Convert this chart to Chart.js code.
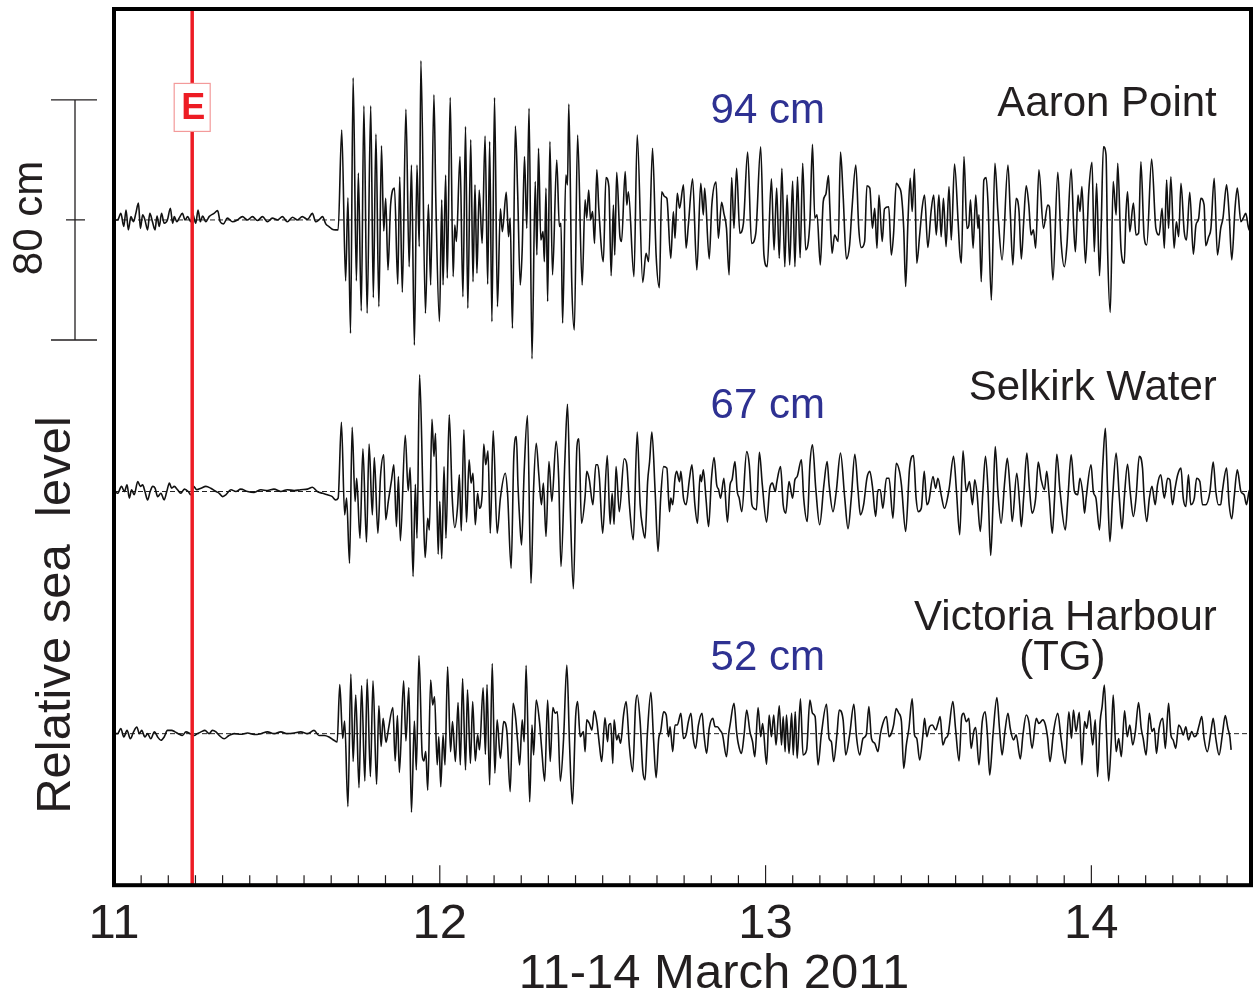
<!DOCTYPE html>
<html lang="en">
<head>
  <meta charset="UTF-8">
  <title>Tsunami records 11-14 March 2011</title>
  <script src="https://cdn.jsdelivr.net/npm/chart.js"></script>
  <style>
    body {
      margin: 0;
      background: white;
    }
    #wrap {
      width: 1254px;
      height: 991px;
    }
  </style>
</head>
<body>
  <div id="wrap">
    <canvas id="seaChart" width="1254" height="991"></canvas>
  </div>

  <script>
    // time in decimal days of March 2011 (UTC), level in cm relative to each record's mean
    const aaronPoint = [
      [11.003,0],[11.011,0],[11.021,2.2],[11.030,-2.2],[11.037,3.3],[11.044,-3.3],[11.052,1.1],[11.060,-0.6],[11.067,2.2],[11.075,5.6],
      [11.081,-2.8],[11.088,1.7],[11.095,0],[11.103,-3.3],[11.110,2.2],[11.118,-0.6],[11.126,-3.3],[11.132,1.3],[11.139,-2.2],[11.146,2.2],
      [11.154,-1.1],[11.164,0],[11.173,3.9],[11.180,-1.1],[11.185,1.1],[11.193,-0.6],[11.200,0.6],[11.210,2.2],[11.218,0],[11.226,1.1],
      [11.236,-0.6],[11.241,2.2],[11.251,-1.1],[11.258,3.3],[11.265,-0.6],[11.272,1.3],[11.282,-0.6],[11.292,1.1],[11.307,2.2],[11.318,3.1],
      [11.326,-0.6],[11.336,-1.3],[11.348,0.6],[11.364,-0.6],[11.379,0],[11.394,1.1],[11.410,0],[11.425,1.1],[11.440,-0.2],[11.456,1.1],
      [11.471,-0.6],[11.486,0.6],[11.502,0],[11.517,1.1],[11.532,-0.6],[11.548,0.9],[11.563,0],[11.578,1.1],[11.594,0.2],[11.609,2.2],
      [11.619,-0.6],[11.629,0],[11.640,1.1],[11.650,-1.3],[11.660,-2.2],[11.670,-3.1],[11.680,-3.3],[11.688,-3.3],
      [11.699,30],[11.711,-20.3],[11.718,7.4],[11.726,-37.8],[11.734,47.4],[11.744,-20.3],[11.750,15.6],[11.759,-30.3],[11.767,38],[11.777,-31.1],
      [11.788,38],[11.796,-25.9],[11.804,28.6],[11.813,-28.9],[11.821,24.7],[11.828,-3.7],[11.834,7.2],[11.841,-16.7],[11.849,5],[11.861,10.6],
      [11.871,-21.4],[11.877,14.4],[11.885,-24.1],[11.896,36.9],[11.906,-15.6],[11.913,18.3],[11.922,-41.7],[11.930,18.3],[11.937,-8.9],[11.942,53],
      [11.956,-31.1],[11.965,5.2],[11.972,-21.7],[11.982,41.7],[11.988,5.6],[11.999,-33.9],[12.006,6.7],[12.010,-21.7],[12.018,15],[12.023,-19.4],
      [12.032,40.8],[12.041,-18.9],[12.046,-1.7],[12.051,-7.2],[12.062,21.1],[12.071,-25.6],[12.079,31.1],[12.086,-29.4],[12.095,26.7],[12.102,-20.6],
      [12.108,11.7],[12.114,-17.8],[12.121,10],[12.130,-7.8],[12.139,28],[12.147,-21.4],[12.153,26.1],[12.160,-33.9],[12.168,40.8],[12.177,-28.9],
      [12.186,3.7],[12.192,-3.9],[12.204,9.2],[12.211,-5.6],[12.216,0.6],[12.223,-36.1],[12.232,31.3],[12.239,9.2],[12.247,-21.7],[12.253,-9.7],
      [12.260,21.1],[12.267,-2.8],[12.274,37.2],[12.283,-46.3],[12.293,12.8],[12.298,-11.7],[12.303,23.9],[12.310,-6.7],[12.317,-3.9],[12.321,-13.9],
      [12.326,10.6],[12.331,-27.2],[12.338,26.1],[12.346,-18.3],[12.359,20],[12.367,-2.2],[12.372,-1.1],[12.377,-34.4],[12.387,15],[12.392,11.7],
      [12.396,38.6],[12.405,-20.6],[12.413,-36.7],[12.423,28.3],[12.437,-21.7],[12.446,6.7],[12.451,0.6],[12.457,10],[12.463,0],[12.469,2.8],
      [12.475,-7.8],[12.482,16.7],[12.488,3.9],[12.502,-13.9],[12.510,14.1],[12.519,11.1],[12.526,-18.6],[12.533,5],[12.537,-11.7],[12.543,15.9],
      [12.553,-5.6],[12.558,-7.2],[12.569,16.1],[12.574,5],[12.579,9.4],[12.596,-18.9],[12.606,28.3],
      [12.623,-20.8],[12.633,-11.1],[12.641,-13.9],[12.653,23.9],[12.664,-11.7],[12.674,-22.6],[12.681,9.4],[12.690,7.8],[12.697,7.2],[12.709,-12.8],
      [12.717,2.8],[12.722,-6.1],[12.729,8.9],[12.736,3.9],[12.748,11.7],[12.756,-9.4],[12.763,-1.7],[12.776,13.7],[12.789,-16.7],[12.801,12.2],
      [12.809,1.7],[12.813,10.6],[12.827,-13],[12.835,5],[12.848,12.6],[12.855,-6.1],[12.865,5.9],[12.872,2.2],[12.880,-2.8],[12.888,-18.3],
      [12.896,14.1],[12.903,-2.8],[12.911,17.2],[12.921,-4.4],[12.932,-1.1],[12.945,22.6],[12.957,-7.8],[12.970,-4.4],[12.985,24.4],[12.995,-11.7],
      [13.005,-15.6],[13.018,13.7],[13.026,-10],[13.034,10.6],[13.042,-12.8],[13.050,17.2],[13.059,-15.6],[13.066,8.3],[13.074,-15],[13.083,13],
      [13.090,-15.6],[13.098,14.4],[13.106,-12.6],[13.114,18.9],[13.123,-10],[13.136,-0.6],[13.144,25.2],[13.151,0.6],[13.158,1.7],[13.168,-15],
      [13.177,6.1],[13.185,8.6],[13.193,14.8],[13.197,5],[13.204,-11.1],[13.212,-5],[13.223,-7.2],[13.230,22.6],[13.238,8.3],[13.248,-13],
      [13.258,-8.3],[13.265,3.3],[13.277,18.3],[13.286,-2.8],[13.294,-9.2],[13.304,-7.2],[13.311,11.4],[13.320,10.6],[13.328,-2.8],[13.335,3.9],
      [13.342,-9.4],[13.348,8.3],[13.358,-7.2],[13.365,3.7],[13.378,4.4],[13.386,-11.7],[13.393,-4.4],[13.401,12.2],[13.409,11.1],[13.417,8.3],
      [13.424,-2.8],[13.430,-22.2],[13.437,-0.6],[13.444,13.9],[13.450,2.8],[13.457,17],[13.464,-14.4],[13.473,-5],[13.481,4.4],[13.488,8.3],
      [13.498,-9.2],[13.508,2.8],[13.516,8.3],[13.524,-5],[13.532,8.3],[13.539,-5.6],[13.546,7.2],[13.554,-8.9],[13.563,11.1],
      [13.570,-6.7],[13.580,18.6],[13.591,-0.6],[13.596,-10.6],[13.601,-14.4],[13.609,21.1],[13.618,-2.8],[13.624,-1.7],[13.629,6.7],[13.637,-9.4],
      [13.645,8.3],[13.652,-2.8],[13.655,1.7],[13.662,-20.6],[13.670,13.3],[13.677,14.1],[13.683,5],[13.693,-26.7],[13.704,18.9],[13.713,2.8],
      [13.726,-13.3],[13.744,18.3],[13.751,2.8],[13.759,-15],[13.769,7.2],[13.778,2.8],[13.785,-13],[13.792,-1.1],[13.800,11.4],[13.808,5],
      [13.815,-5],[13.822,-3.3],[13.829,-9.4],[13.839,16.7],[13.853,-2.8],[13.866,5],[13.871,4.4],[13.882,-20],[13.897,15.9],[13.907,-7.2],
      [13.917,-15.6],[13.925,-8.3],[13.938,17],[13.946,-2.8],[13.951,-10.6],[13.959,8.3],[13.965,2.8],[13.971,11.1],[13.982,-14.4],[13.992,9.4],
      [14.002,19.2],[14.009,-10.6],[14.016,12.2],[14.025,-18.6],[14.030,-2.8],[14.037,24.4],[14.045,21.7],[14.050,-10.6],[14.058,-30.8],[14.067,12.8],
      [14.076,1.7],[14.081,18.9],[14.091,-9.7],[14.101,-14.4],[14.106,1.7],[14.111,9.4],[14.118,-3.9],[14.129,5.6],[14.137,-5],[14.145,-4.4],
      [14.152,19.4],[14.162,-5.6],[14.170,-8.3],[14.185,20.3],[14.198,-2.8],[14.208,-5],[14.217,3.9],[14.224,-9.4],[14.231,13.3],[14.237,-2.8],
      [14.244,14.4],[14.254,-9.4],[14.261,-0.6],[14.268,-5.6],[14.275,12.2],[14.285,-3.9],[14.292,-6.7],[14.302,9.2],[14.313,-11.4],[14.321,-1.7],
      [14.329,0.3],[14.336,7.2],[14.346,5],[14.351,-8.6],[14.360,-5.6],[14.367,-2.8],[14.377,13.9],[14.387,-11.7],[14.397,-2.8],[14.404,0.6],
      [14.415,11.7],[14.423,1.7],[14.431,-13.3],[14.441,3.9],[14.448,10.6],[14.459,-0.6],[14.466,0.6],[14.474,2.2],[14.484,-3.3],[14.489,2.8]
    ];

    const selkirkWater = [
      [11.003,0],[11.011,-0.6],[11.023,1.7],[11.032,0],[11.040,2.2],[11.047,-2.2],[11.054,0.6],[11.062,-1.1],[11.073,3.3],[11.081,1.7],
      [11.088,2.2],[11.095,0],[11.103,-2.8],[11.111,0],[11.119,1.7],[11.126,1.1],[11.134,-1.7],[11.144,-0.6],[11.154,-2.8],[11.162,0],
      [11.170,2.8],[11.177,1.1],[11.185,1.7],[11.195,0.6],[11.205,-0.6],[11.216,0.8],[11.228,0],[11.236,-1.1],[11.244,1.7],[11.254,0.6],
      [11.267,1.1],[11.282,1.7],[11.297,1.1],[11.313,0],[11.323,-0.6],[11.333,-1.7],[11.343,-1.1],[11.359,0.6],[11.374,0],[11.389,0.8],
      [11.410,0],[11.430,-0.3],[11.451,0.6],[11.471,0.3],[11.491,0.8],[11.512,0],[11.532,0.6],[11.553,0.3],[11.573,0.6],[11.594,0.8],
      [11.609,1.4],[11.624,0],[11.640,-0.6],[11.655,-1.1],[11.670,-1.7],[11.680,-2.8],[11.688,-2.2],
      [11.698,23.1],[11.708,-7.8],[11.714,-2.2],[11.723,-23.9],[11.731,21.4],[11.740,-3.3],[11.745,4.4],[11.755,-15.6],[11.764,14.2],[11.775,-16.9],
      [11.783,15.8],[11.793,-7.8],[11.799,11.3],[11.810,-13.9],[11.818,5],[11.828,12.2],[11.834,-9.4],[11.842,-3.3],[11.852,3.9],[11.859,8.9],
      [11.867,-11.7],[11.873,5],[11.879,-16.4],[11.894,18.7],[11.903,0.2],[11.909,8],[11.918,-28.3],[11.925,2.4],[11.930,-15.6],[11.938,38.9],
      [11.949,-3.9],[11.955,-22],[11.963,-8.9],[11.968,-12.8],[11.976,24.1],[11.982,11.7],[11.987,19.4],[11.995,-20.9],[12.000,-3.3],[12.006,-22.4],
      [12.013,8.3],[12.019,-15.6],[12.029,25.6],[12.038,-1.7],[12.046,-12],[12.055,-4.4],[12.060,5.6],[12.066,-13.1],[12.074,20.6],[12.082,-10.2],
      [12.090,10.6],[12.096,2.8],[12.102,6.1],[12.109,-11.1],[12.116,-0.6],[12.122,-5.6],[12.130,-1.1],[12.135,15.8],[12.141,8.9],[12.148,13.6],
      [12.155,-13.9],[12.164,20.2],[12.176,-13.9],[12.186,-2.2],[12.201,6.1],[12.208,-0.6],[12.219,-25.6],[12.227,11.1],[12.235,18.3],[12.240,2.2],
      [12.245,-8.9],[12.251,-17.8],[12.259,6.7],[12.269,25.3],[12.280,-30.6],[12.288,1.1],[12.296,16.1],[12.304,5.6],[12.312,-4.4],[12.318,2.8],
      [12.326,-15],[12.335,10],[12.344,-3.3],[12.357,16.7],[12.365,4.4],[12.372,-25],[12.384,10.6],[12.392,29.1],[12.400,-3.3],[12.410,-32.4],
      [12.421,15],[12.427,17.6],[12.435,-10.6],[12.446,-1.7],[12.451,6.7],[12.459,3.9],[12.470,-4.4],[12.479,8.9],[12.485,8.9],[12.490,4.4],
      [12.500,-13.9],[12.514,12],[12.523,-10.9],[12.529,-0.6],[12.535,-10.9],[12.541,8.3],[12.551,-6.7],[12.566,10.9],[12.574,8.9],[12.582,-4.4],
      [12.594,-16.1],[12.606,19.8],
      [12.615,-4.4],[12.623,-12.2],[12.630,-15.6],[12.638,3.3],[12.644,10],[12.651,19.8],[12.661,0],[12.670,-20],[12.678,-2.2],[12.687,8.3],
      [12.697,7.8],[12.705,-6.7],[12.709,-2.2],[12.715,-4.4],[12.722,4.4],[12.727,6.7],[12.736,3.3],[12.740,6.7],[12.748,-2.2],[12.756,-4.4],
      [12.766,3.9],[12.774,8.9],[12.783,-4.4],[12.791,-10.6],[12.799,5.6],[12.803,3.3],[12.809,7.2],[12.817,-2.2],[12.825,-11.7],[12.834,4.4],
      [12.842,11.3],[12.850,2.2],[12.856,0.6],[12.862,-2.2],[12.872,4.4],[12.883,-10.2],[12.891,2.2],[12.897,3.9],[12.906,10],[12.913,0],
      [12.919,-2.2],[12.927,-6.7],[12.942,13.3],[12.950,8.9],[12.958,-4.4],[12.964,-5.6],[12.972,-6.1],[12.981,13.1],[12.990,2.2],[13.003,-10.2],
      [13.013,1.1],[13.021,2.8],[13.030,0],[13.034,2.8],[13.046,8.3],[13.054,-4.4],[13.062,-7.2],[13.072,3.3],[13.083,-2.2],[13.090,3.9],
      [13.097,5],[13.110,10.6],[13.117,-2.2],[13.128,-10],[13.136,8.9],[13.144,15.6],[13.154,1.1],[13.166,-11.1],[13.179,2.2],[13.189,10],
      [13.195,2.2],[13.207,-6.7],[13.217,0],[13.230,12.8],[13.243,-2.2],[13.253,-12.4],[13.263,-2.2],[13.274,12.4],[13.284,0],[13.291,-7.8],
      [13.301,-4.4],[13.311,4.4],[13.320,6.7],[13.328,1.7],[13.338,-8.3],[13.345,0.6],[13.352,0.6],[13.360,-5.6],[13.371,4.4],[13.379,4.4],
      [13.391,-8.9],[13.401,9.4],[13.411,6.7],[13.417,2.2],[13.430,-13.3],[13.442,7.8],[13.454,12],[13.462,-2.2],[13.469,-6.7],[13.478,-5.6],
      [13.487,6.7],[13.495,-4.4],[13.501,-3.3],[13.514,5],[13.522,1.1],[13.529,4.4],[13.539,-1.1],[13.549,-5.6],[13.563,0.6],
      [13.577,11.7],[13.586,0],[13.596,-14.4],[13.606,13.6],[13.616,0],[13.626,3.3],[13.635,-4.4],[13.642,3.9],[13.649,-0.6],[13.659,-13.3],
      [13.667,0],[13.675,11.7],[13.683,0],[13.691,-21.3],[13.698,-4.4],[13.705,15],[13.713,0],[13.723,-10.6],[13.734,3.3],[13.742,11.1],
      [13.751,0],[13.757,-10],[13.771,6.1],[13.780,-4.4],[13.785,-11.7],[13.792,-2.2],[13.802,12.8],[13.810,1.1],[13.818,-7.2],[13.829,-2.2],
      [13.837,9.8],[13.846,3.9],[13.856,0.6],[13.863,6.7],[13.871,-2.2],[13.880,-13.9],[13.887,-2.2],[13.894,12.4],[13.904,0],[13.920,-12.8],
      [13.928,-2.2],[13.938,12.2],[13.948,0],[13.958,-1.1],[13.965,4.4],[13.974,-1.1],[13.979,-7.2],[13.984,-2.2],[13.999,8.9],[14.006,0],
      [14.014,-2.2],[14.025,-12.8],[14.035,8.9],[14.043,21.1],[14.050,0],[14.057,-16.7],[14.065,-2.2],[14.076,12.8],[14.086,-2.2],[14.094,-12.4],
      [14.101,-2.2],[14.111,9.1],[14.119,0],[14.129,-8.3],[14.137,-2.2],[14.147,11.7],[14.157,7.8],[14.162,-2.2],[14.170,-10],[14.178,-2.2],
      [14.186,1.7],[14.196,-4.4],[14.203,2.2],[14.213,5.6],[14.224,-2.2],[14.234,4.4],[14.241,3.9],[14.249,-4.4],[14.257,1.1],[14.265,5.6],
      [14.275,7.8],[14.282,-2.2],[14.290,-5],[14.298,5.6],[14.305,-4.4],[14.316,-2.2],[14.323,4.4],[14.333,3.3],[14.341,-4.4],[14.351,-4.4],
      [14.364,0],[14.374,9.8],[14.382,0],[14.390,-4.4],[14.397,-4.4],[14.402,0],[14.415,7.8],[14.423,-4.4],[14.431,-9.1],[14.438,-2.2],
      [14.448,7.2],[14.459,0],[14.469,-1.1],[14.476,-4.4],[14.484,0],[14.489,1.1]
    ];

    const victoriaHarbour = [
      [11.003,0],[11.011,0],[11.021,1.7],[11.030,-1.1],[11.040,1.1],[11.050,-1.7],[11.060,0.6],[11.070,2.2],[11.078,0],[11.085,1.1],
      [11.095,-1.1],[11.103,0],[11.113,-1.7],[11.124,0.6],[11.134,-1.1],[11.144,-2.2],[11.154,-1.1],[11.164,1.1],[11.177,1.1],[11.187,0.6],
      [11.197,0],[11.210,-0.6],[11.221,0.6],[11.234,0],[11.246,-0.6],[11.256,0],[11.267,0.6],[11.279,1.1],[11.292,0],[11.302,1.1],
      [11.313,0.6],[11.323,-0.6],[11.338,-1.7],[11.353,-0.6],[11.369,0],[11.389,-0.2],[11.410,0.2],[11.430,-0.3],[11.451,0],[11.471,0.6],
      [11.491,0],[11.512,0.6],[11.532,0],[11.553,0.2],[11.573,0.6],[11.594,0],[11.614,1.1],[11.629,-0.6],[11.645,-0.6],[11.660,-1.1],
      [11.675,-2.2],[11.685,-2.8],
      [11.693,16.4],[11.702,-1.6],[11.708,4.2],[11.718,-24.3],[11.727,19.9],[11.734,-9.3],[11.742,12.9],[11.752,-18],[11.760,16],[11.770,-15.8],
      [11.777,18.2],[11.787,-14.3],[11.795,17.6],[11.806,-16.9],[11.813,9.3],[11.820,-4.3],[11.826,5.1],[11.835,-2.9],[11.842,1.2],[11.856,8.7],
      [11.863,-9.1],[11.870,6],[11.876,-12.9],[11.889,17.6],[11.896,-2.4],[11.905,15.4],[11.913,-26.2],[11.922,4.2],[11.928,-12.1],[11.936,26],
      [11.946,-7.1],[11.951,-9.1],[11.957,-6],[11.963,-18.8],[11.972,17.9],[11.978,9.6],[11.984,12.3],[11.992,-10.4],[11.997,-1],[12.003,-17.7],
      [12.010,-0.4],[12.016,-10.4],[12.024,22.3],[12.033,-6],[12.039,4],[12.048,-9.3],[12.056,10.4],[12.063,-10.4],[12.070,18.4],[12.079,-12.1],
      [12.085,14.6],[12.094,-9.9],[12.101,10.7],[12.109,-9.1],[12.116,-0.4],[12.122,-5.4],[12.133,15.3],[12.140,-6.9],[12.145,16.4],[12.153,-17.1],
      [12.161,23.4],[12.169,-13.2],[12.176,4.6],[12.186,-8.2],[12.196,4],[12.206,0.7],[12.216,-19.3],[12.225,10.1],[12.233,5.1],[12.239,-2.7],
      [12.245,-10.4],[12.253,4.6],[12.259,-2.7],[12.265,22.7],[12.276,-22.7],[12.283,2.9],[12.288,-7.1],[12.296,11.2],[12.306,4],[12.313,-5.4],
      [12.322,-15.8],[12.331,11.2],[12.339,-9.3],[12.347,8.7],[12.354,6.8],[12.361,7.3],[12.370,-15.8],[12.380,-1.6],[12.390,22.9],[12.398,-2.7],
      [12.407,-23.4],[12.417,5.7],[12.423,10.7],[12.431,-1],[12.441,0.7],[12.446,-6],[12.451,4.6],[12.459,3.4],[12.467,1.2],[12.474,7.6],
      [12.482,4],[12.490,-3.8],[12.497,-9.3],[12.507,5.3],[12.515,-2.7],[12.519,2.9],[12.525,3.4],[12.531,-9.9],[12.535,4.6],[12.543,-2.1],
      [12.548,-0.4],[12.555,-3.2],[12.564,6.2],[12.572,10.7],[12.582,-4.3],[12.592,-12.7],[12.601,9.6],[12.606,12.9],
      [12.615,4],[12.623,-12.1],[12.630,-15.4],[12.637,-0.4],[12.648,13.8],[12.656,-1.6],[12.664,-14.7],[12.672,-1.6],[12.678,0.7],[12.687,7.3],
      [12.695,6.2],[12.702,-1],[12.707,2.3],[12.715,-6],[12.722,2.9],[12.729,2.9],[12.740,6.8],[12.748,-1.6],[12.756,-0.4],[12.763,4],
      [12.771,6.8],[12.778,-1.6],[12.785,-4.9],[12.794,2.9],[12.805,6.8],[12.811,-0.4],[12.819,-6.6],[12.827,1.8],[12.838,5.1],[12.845,2.3],
      [12.852,2.3],[12.860,1.2],[12.868,-0.4],[12.880,-7.7],[12.887,0.1],[12.891,2.9],[12.903,10.1],[12.911,0.7],[12.916,-3.2],[12.926,-6.6],
      [12.934,-0.4],[12.942,7.9],[12.952,0.7],[12.960,-2.7],[12.967,-7.7],[12.977,8.7],[12.985,-1],[12.991,3.4],[13.003,-10.2],[13.011,6.2],
      [13.018,-1],[13.025,6.2],[13.032,-3.8],[13.042,9.3],[13.049,-3.8],[13.054,5.7],[13.060,-6],[13.064,6.2],[13.072,-6.6],[13.080,6.8],
      [13.085,-7.1],[13.091,7.3],[13.097,-8.2],[13.107,11.6],[13.115,-7.1],[13.126,-5.4],[13.136,11.2],[13.144,6.8],[13.152,5.7],[13.161,-10.4],
      [13.171,-0.4],[13.187,9.8],[13.195,-1.6],[13.202,-2.7],[13.209,-9.3],[13.219,-0.4],[13.226,7.9],[13.238,4.6],[13.246,-7.1],[13.258,-0.4],
      [13.271,9.8],[13.279,-1],[13.289,-7.1],[13.299,-1.6],[13.309,-0.4],[13.317,9],[13.325,-1.6],[13.335,-3.2],[13.345,-6],[13.352,-0.4],
      [13.360,3.4],[13.371,5.7],[13.379,-1],[13.386,0.1],[13.393,2.9],[13.401,8.4],[13.409,6.8],[13.417,4],[13.424,-11.6],[13.432,-3.8],
      [13.440,1.8],[13.450,11.6],[13.457,-0.4],[13.464,-1.6],[13.473,-8.8],[13.483,-0.4],[13.488,5.1],[13.495,-1],[13.503,2.3],[13.512,2.9],
      [13.522,1.2],[13.529,3.4],[13.536,5.7],[13.544,-3.8],[13.552,-1.6],[13.560,-0.4],
      [13.575,10.7],[13.583,1.8],[13.594,-9.1],[13.602,5.7],[13.608,6.8],[13.616,4],[13.624,5.1],[13.631,-4.9],[13.639,0.7],[13.645,2],
      [13.655,-10.4],[13.665,4],[13.674,7.3],[13.681,-0.4],[13.688,-13.8],[13.698,-0.4],[13.710,12],[13.718,1.8],[13.726,-7.1],[13.734,0.1],
      [13.744,6.8],[13.751,1.8],[13.761,-2.1],[13.769,-0.4],[13.782,-8.4],[13.790,-0.4],[13.800,6.2],[13.808,4],[13.818,-4.9],[13.831,5.1],
      [13.839,3.4],[13.851,4.6],[13.859,2.9],[13.866,-1.6],[13.873,-9.3],[13.884,0.7],[13.897,6.8],[13.907,-1.6],[13.920,-9.9],[13.931,7.3],
      [13.939,-1.6],[13.945,7.9],[13.953,0.7],[13.963,7.1],[13.971,-10.4],[13.979,4],[13.986,1.8],[13.994,7.6],[14.004,-3.8],[14.012,4.6],
      [14.019,-14.3],[14.027,4],[14.033,9],[14.040,16.2],[14.047,-1.6],[14.053,-15.8],[14.061,-2.7],[14.067,12.9],[14.076,-6],[14.084,-1.6],
      [14.092,-7.7],[14.102,7.6],[14.110,-1],[14.118,2.9],[14.127,-3.8],[14.135,0.7],[14.145,10.4],[14.153,1.8],[14.159,-1.6],[14.168,-7.1],
      [14.178,6.8],[14.186,0.7],[14.193,1.8],[14.200,-6.6],[14.208,1.8],[14.219,5.1],[14.227,-4.9],[14.237,10.1],[14.244,-0.4],[14.251,-2.1],
      [14.259,-4.9],[14.268,2.9],[14.275,1.8],[14.282,-0.4],[14.290,2.3],[14.298,-2.1],[14.308,0.7],[14.316,-1],[14.323,-0.4],[14.331,2.9],
      [14.339,5.7],[14.346,-1.6],[14.356,-6],[14.367,0.7],[14.374,5.1],[14.382,-1.6],[14.392,-7.1],[14.402,-0.4],[14.411,6],[14.419,1.8],
      [14.425,-1],[14.429,-5.4]
    ];

    const stationNames = ['Aaron Point', 'Selkirk Water', 'Victoria Harbour'];
    const maxWaves = ['94 cm', '67 cm', '52 cm'];
    const xTicks = [11, 12, 13, 14];
    const quakeDay = 11.24;   // earthquake origin time, 05:46 UTC
    const scaleBarCm = 80;

    // vertical placement of each record on the shared cm axis
    const offsets = [221.7, 131.2, 50.5];
    const yTop = 292;
    const xMin = 11, xMax = 14.49;

    const ink = '#231f20';
    const blue = '#2e3192';
    const red = '#ed1c24';
    const font = '"Liberation Sans", Arial, sans-serif';

    const records = [aaronPoint, selkirkWater, victoriaHarbour];

    const datasets = [];
    records.forEach((rec, i) => {
      datasets.push({
        label: stationNames[i],
        data: rec.map(p => ({ x: p[0], y: p[1] + offsets[i] })),
        borderColor: '#111',
        borderWidth: 1.6,
        pointRadius: 0,
        cubicInterpolationMode: 'monotone',
        order: 1
      });
      datasets.push({
        label: stationNames[i] + ' mean',
        data: [{ x: xMin, y: offsets[i] }, { x: xMax, y: offsets[i] }],
        borderColor: '#222',
        borderWidth: 1,
        borderDash: [5, 3],
        pointRadius: 0,
        order: 2
      });
    });
    datasets.push({
      label: 'E',
      data: [{ x: quakeDay, y: 0 }, { x: quakeDay, y: yTop }],
      borderColor: red,
      borderWidth: 3.5,
      pointRadius: 0,
      order: 0
    });

    const decor = {
      id: 'decor',
      afterDraw(chart) {
        const { ctx, chartArea: a, scales: { x, y } } = chart;
        ctx.save();

        // 2-hour minor ticks, daily major ticks, pointing inward
        ctx.strokeStyle = ink;
        ctx.lineWidth = 1.2;
        for (let i = 1; 11 + i / 12 < xMax; i++) {
          const px = x.getPixelForValue(11 + i / 12);
          const len = i % 12 === 0 ? 20 : 10;
          ctx.beginPath();
          ctx.moveTo(px, a.bottom);
          ctx.lineTo(px, a.bottom - len);
          ctx.stroke();
        }

        // frame
        ctx.strokeStyle = '#000';
        ctx.lineWidth = 4;
        ctx.strokeRect(a.left, a.top, a.right - a.left, a.bottom - a.top);

        // earthquake marker box
        const ex = x.getPixelForValue(quakeDay);
        const ey = y.getPixelForValue(offsets[0] + 37.5);
        ctx.fillStyle = 'white';
        ctx.fillRect(ex - 18, ey - 24, 36, 48);
        ctx.strokeStyle = '#f39a9a';
        ctx.lineWidth = 1.2;
        ctx.strokeRect(ex - 18, ey - 24, 36, 48);
        ctx.fillStyle = red;
        ctx.font = 'bold 36px ' + font;
        ctx.textAlign = 'center';
        ctx.textBaseline = 'middle';
        ctx.fillText('E', ex + 1, ey + 2);

        // 80 cm scale bar
        const bx = 75;
        const bTop = y.getPixelForValue(offsets[0] + scaleBarCm / 2);
        const bMid = y.getPixelForValue(offsets[0]);
        const bBot = y.getPixelForValue(offsets[0] - scaleBarCm / 2);
        ctx.strokeStyle = ink;
        ctx.lineWidth = 1.3;
        ctx.beginPath();
        ctx.moveTo(bx, bTop); ctx.lineTo(bx, bBot);
        ctx.moveTo(bx - 24, bTop); ctx.lineTo(bx + 22, bTop);
        ctx.moveTo(bx - 24, bBot); ctx.lineTo(bx + 22, bBot);
        ctx.moveTo(bx - 9, bMid); ctx.lineTo(bx + 10, bMid);
        ctx.stroke();

        // rotated left texts
        ctx.fillStyle = ink;
        ctx.save();
        ctx.translate(30, bMid - 2);
        ctx.rotate(-Math.PI / 2);
        ctx.font = '42px ' + font;
        ctx.fillText(scaleBarCm + ' cm', 0, 0);
        ctx.restore();

        ctx.save();
        ctx.translate(56, 615);
        ctx.rotate(-Math.PI / 2);
        ctx.font = '49px ' + font;
        ctx.fillText('Relative sea  level', 0, 0);
        ctx.restore();

        // station names and peak heights
        ctx.textBaseline = 'alphabetic';
        ctx.font = '42px ' + font;
        ctx.textAlign = 'right';
        const nameX = x.getPixelForValue(14.385);
        ctx.fillText(stationNames[0], nameX, y.getPixelForValue(256.3));
        ctx.fillText(stationNames[1], nameX, y.getPixelForValue(161.7));
        ctx.fillText(stationNames[2], nameX, y.getPixelForValue(85));
        ctx.textAlign = 'center';
        ctx.fillText('(TG)', x.getPixelForValue(13.911), y.getPixelForValue(71.7));

        ctx.fillStyle = blue;
        ctx.textAlign = 'left';
        const ampX = x.getPixelForValue(12.831);
        ctx.fillText(maxWaves[0], ampX, y.getPixelForValue(254));
        ctx.fillText(maxWaves[1], ampX, y.getPixelForValue(155.7));
        ctx.fillText(maxWaves[2], ampX, y.getPixelForValue(71.7));

        // axis title
        ctx.fillStyle = ink;
        ctx.textAlign = 'center';
        ctx.font = '49px ' + font;
        ctx.fillText('11-14 March 2011', 714, 988);

        ctx.restore();
      }
    };

    const ctx = document.getElementById('seaChart').getContext('2d');
    new Chart(ctx, {
      type: 'line',
      data: { datasets: datasets },
      options: {
        responsive: false,
        animation: false,
        layout: { padding: { left: 114, right: 3, top: 9, bottom: 27 } },
        plugins: {
          legend: { display: false },
          tooltip: { enabled: false }
        },
        scales: {
          x: {
            type: 'linear',
            min: xMin,
            max: xMax,
            grid: { display: false, drawTicks: false },
            border: { display: false },
            afterBuildTicks: axis => { axis.ticks = xTicks.map(v => ({ value: v })); },
            ticks: {
              autoSkip: false,
              maxRotation: 0,
              padding: 10,
              color: ink,
              font: { family: font, size: 49 },
              callback: v => String(v)
            }
          },
          y: {
            type: 'linear',
            display: false,
            min: 0,
            max: yTop
          }
        }
      },
      plugins: [decor]
    });
  </script>
</body>
</html>
